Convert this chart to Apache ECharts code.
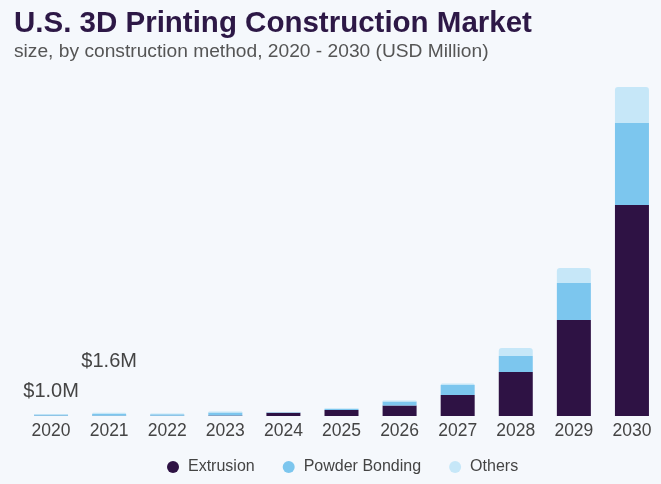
<!DOCTYPE html>
<html>
<head>
<meta charset="utf-8">
<script src="https://cdn.jsdelivr.net/npm/echarts@6/dist/echarts.min.js"></script>
<style>
  html, body { margin: 0; padding: 0; background: #f5f8fc; }
  #chart { width: 661px; height: 484px; }
</style>
</head>
<body>
<div id="chart"></div>
<script>
// data (USD Million)
var years = ['2020', '2021', '2022', '2023', '2024', '2025', '2026', '2027', '2028', '2029', '2030'];
var extrusion = [0.1, 0.1, 0.1, 0.2, 1.6, 3, 5.3, 10.5, 22, 48, 105.5];
var powderBonding = [0.6, 0.9, 0.8, 1.6, 0.3, 0.6, 2, 5, 8, 18.5, 41];
var others = [0.3, 0.6, 0.4, 0.5, 0.1, 0.2, 0.5, 0.8, 4, 7.5, 18];
// annotations above the first bars
var notes = { 0: '$1.0M', 1: '$1.6M' };
var noteDist = { 0: 13, 1: 41 };

var chart = echarts.init(document.getElementById('chart'));

var othersData = others.map(function (v, i) {
    if (notes[i]) {
        return {
            value: v,
            label: {
                show: true,
                position: 'top',
                distance: noteDist[i],
                formatter: notes[i],
                color: '#444',
                fontSize: 20,
                fontFamily: 'Liberation Sans'
            }
        };
    }
    return v;
});

var option = {
    backgroundColor: '#f5f8fc',
    title: {
        text: 'U.S. 3D Printing Construction Market',
        subtext: 'size, by construction method, 2020 - 2030 (USD Million)',
        left: 14,
        top: 9,
        padding: 0,
        itemGap: 3,
        textStyle: {
            fontFamily: 'Liberation Sans',
            fontWeight: 'bold',
            fontSize: 29.5,
            color: '#2d1846'
        },
        subtextStyle: {
            fontFamily: 'Liberation Sans',
            fontSize: 19.2,
            color: '#555'
        }
    },
    legend: {
        bottom: 9,
        left: 167,
        padding: 0,
        icon: 'circle',
        itemWidth: 12,
        itemHeight: 12,
        itemGap: 28,
        textStyle: { color: '#444', fontSize: 16, fontFamily: 'Liberation Sans', padding: [0, 0, 0, 4] },
        data: ['Extrusion', 'Powder Bonding', 'Others']
    },
    grid: { left: 22, right: -1, top: 56, bottom: 68 },
    xAxis: {
        type: 'category',
        data: years,
        axisLine: { show: false },
        axisTick: { show: false },
        axisLabel: { color: '#444', fontSize: 17.5, margin: 6, fontFamily: 'Liberation Sans' }
    },
    yAxis: {
        type: 'value',
        min: 0,
        max: 180,
        show: false,
        splitLine: { show: false }
    },
    series: [
        {
            name: 'Extrusion',
            type: 'bar',
            stack: 'total',
            barWidth: 34,
            itemStyle: { color: '#2e1244' },
            data: extrusion
        },
        {
            name: 'Powder Bonding',
            type: 'bar',
            stack: 'total',
            itemStyle: { color: '#7cc6ee' },
            data: powderBonding
        },
        {
            name: 'Others',
            type: 'bar',
            stack: 'total',
            itemStyle: { color: '#c6e7f8', borderRadius: [3, 3, 0, 0] },
            data: othersData
        }
    ]
};

chart.setOption(option);
</script>
</body>
</html>
